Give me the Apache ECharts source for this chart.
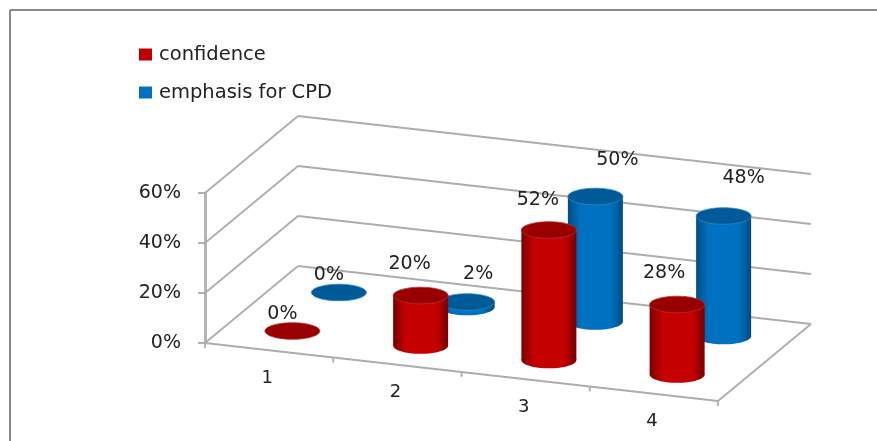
<!DOCTYPE html>
<html>
<head>
<meta charset="utf-8">
<style>html,body{margin:0;padding:0;background:#fff}#chart{width:877px;height:441px}</style>
<script src="https://cdn.jsdelivr.net/npm/echarts@6/dist/echarts.min.js"></script>
</head>
<body>
<div id="chart"></div>
<script>
const categories = ['1', '2', '3', '4'];
const confidence = [0, 20, 52, 28];
const emphasis = [0, 2, 50, 48];
const valueTicks = [0, 20, 40, 60];

// Oblique projection of the 3D box onto the page
const FONT = '"DejaVu Sans", sans-serif';
const TEXT = '#222222';
const GRID = '#adadad';
const FRONT = { left: 205, top: 193, width: 513, height: 150 };
const FLOOR_DROP = 58;      // fall of the front edge across its full width
const DEPTH_X = 93;         // shift of the back wall from the front plane
const DEPTH_Y = -77;
const RX = 27.5;
const RY = 8.3;

function project(api, u, depth, value) {
  const p = api.coord([u, value]);
  return [
    p[0] + depth * DEPTH_X,
    p[1] + (p[0] - FRONT.left) * FLOOR_DROP / FRONT.width + depth * DEPTH_Y
  ];
}

const line = (a, b, width, color) => ({
  type: 'line',
  shape: { x1: a[0], y1: a[1], x2: b[0], y2: b[1] },
  style: { stroke: color || GRID, lineWidth: width || 1.8 }
});

// Horizontal shading of a cylinder wall
const wallFill = (edge, mid) => new echarts.graphic.LinearGradient(0, 0, 1, 0, [
  { offset: 0, color: edge },
  { offset: 0.22, color: mid },
  { offset: 0.78, color: mid },
  { offset: 1, color: edge }
]);

function cylinder(depth, palette, nudges) {
  return function (params, api) {
    const u = api.value(0) + 0.5;
    const val = api.value(1);
    const base = project(api, u, depth, 0);
    const top = project(api, u, depth, val);
    const fill = wallFill(palette.edge, palette.mid);
    const children = [];
    if (val > 0) {
      children.push(
        { type: 'ellipse', shape: { cx: base[0], cy: base[1], rx: RX, ry: RY }, style: { fill } },
        { type: 'rect', shape: { x: top[0] - RX, y: top[1], width: RX * 2, height: base[1] - top[1] }, style: { fill } }
      );
    }
    children.push({
      type: 'ellipse',
      shape: { cx: top[0], cy: top[1], rx: RX, ry: RY },
      style: { fill: palette.cap, stroke: palette.rim, lineWidth: 0.8 }
    });
    const n = nudges[params.dataIndex];
    children.push({
      type: 'text',
      style: {
        text: val + '%', x: top[0] + n[0], y: top[1] + n[1],
        align: 'center', verticalAlign: 'middle',
        font: '19px ' + FONT, fill: TEXT
      }
    });
    return { type: 'group', children };
  };
}

const RED = { edge: '#780000', mid: '#c40000', cap: '#980000', rim: '#b83030' };
const BLUE = { edge: '#004c82', mid: '#0070c0', cap: '#005a98', rim: '#2a88c8' };

const option = {
  animation: false,
  backgroundColor: '#ffffff',
  textStyle: { fontFamily: FONT },
  graphic: [
    { type: 'line', silent: true, shape: { x1: 10, y1: 10, x2: 877, y2: 10 }, style: { stroke: '#8a8a8a', lineWidth: 2 } },
    { type: 'line', silent: true, shape: { x1: 10, y1: 10, x2: 10, y2: 441 }, style: { stroke: '#8a8a8a', lineWidth: 2 } }
  ],
  legend: {
    left: 139, top: 44, orient: 'vertical', itemGap: 17, padding: 0,
    itemWidth: 13, itemHeight: 12, icon: 'rect',
    selectedMode: false,
    data: ['confidence', 'emphasis for CPD'],
    textStyle: { fontFamily: FONT, fontSize: 19.5, color: TEXT, padding: [0, 0, 0, 2], lineHeight: 21 }
  },
  grid: { left: FRONT.left, top: FRONT.top, width: FRONT.width, height: FRONT.height, containLabel: false },
  xAxis: { type: 'value', min: 0, max: categories.length, interval: 1, show: false },
  yAxis: {
    type: 'value', min: 0, max: 60, interval: 20,
    axisLine: { show: true, lineStyle: { color: '#b4b4b4', width: 3 } },
    axisTick: { show: true, length: 7, lineStyle: { color: '#999999', width: 1.5 } },
    axisLabel: { formatter: '{value}%', fontFamily: FONT, fontSize: 19, color: TEXT, margin: 24, padding: [6, 0, 0, 0] },
    splitLine: { show: false }
  },
  series: [
    {
      // Gridlines running along the side wall and across the back wall
      type: 'custom', name: 'walls', silent: true, z: 1,
      data: valueTicks.map(v => [0, v]),
      renderItem(params, api) {
        const v = api.value(1);
        const f = project(api, 0, 0, v);
        const b = project(api, 0, 1, v);
        const r = project(api, categories.length, 1, v);
        return { type: 'group', children: [line(f, b), line(b, r)] };
      }
    },
    {
      // Front edge of the floor, its ticks, the category labels and the right edge
      type: 'custom', name: 'floor', silent: true, z: 1,
      data: categories.map((c, i) => [i, 0]),
      renderItem(params, api) {
        const i = api.value(0);
        const a = project(api, i, 0, 0);
        const b = project(api, i + 1, 0, 0);
        const mid = project(api, i + 0.5, 0, 0);
        const kids = [
          line(a, b),
          line(b, [b[0], b[1] + 5]),
          {
            type: 'text',
            style: {
              text: categories[i], x: mid[0] - 2, y: mid[1] + 28,
              align: 'center', verticalAlign: 'middle',
              font: '18px ' + FONT, fill: TEXT
            }
          }
        ];
        if (i === 0) kids.push(line(a, [a[0], a[1] + 5]));
        if (i === categories.length - 1) kids.push(line(b, project(api, i + 1, 1, 0)));
        return { type: 'group', children: kids };
      }
    },
    {
      type: 'custom', name: 'confidence', z: 4,
      itemStyle: { color: '#c00000' },
      data: confidence.map((v, i) => [i, v]),
      renderItem: cylinder(0.25, RED, [[-10, -17], [-11, -31], [-11, -30], [-13, -31]])
    },
    {
      type: 'custom', name: 'emphasis for CPD', z: 3,
      itemStyle: { color: '#0070c0' },
      data: emphasis.map((v, i) => [i, v]),
      renderItem: cylinder(0.75, BLUE, [[-10, -17], [11, -28], [22, -36], [20, -38]])
    }
  ]
};

echarts.init(document.getElementById('chart'), null, { renderer: 'canvas' }).setOption(option);
</script>
</body>
</html>
